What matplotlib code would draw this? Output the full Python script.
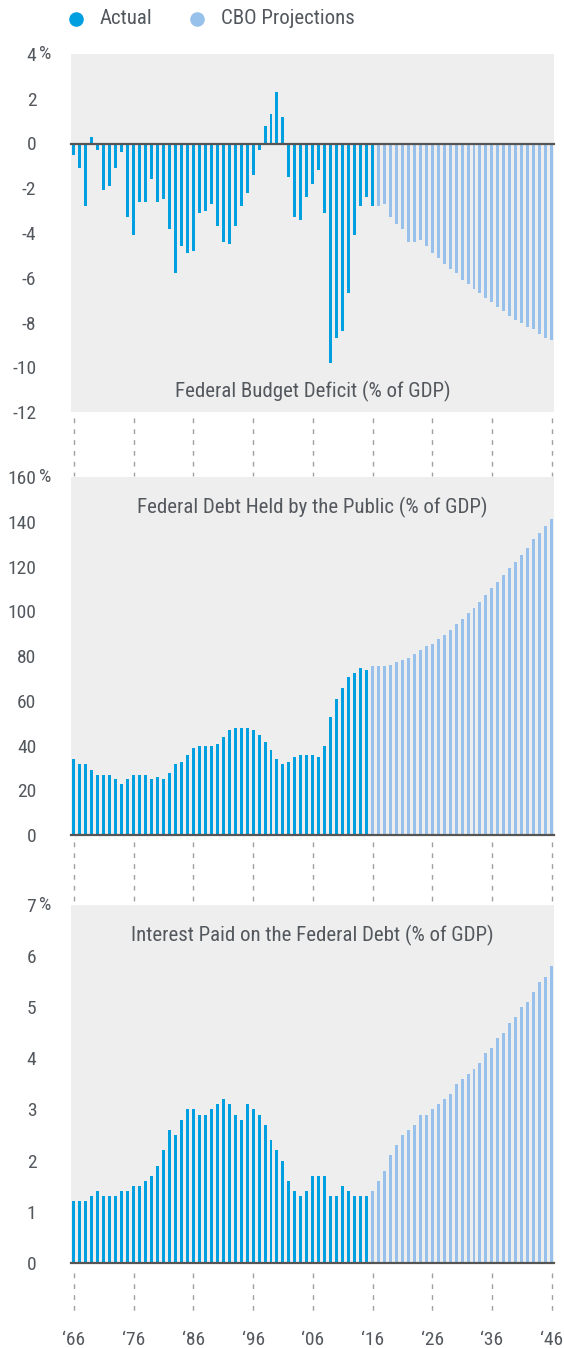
import matplotlib
matplotlib.use('Agg')
import matplotlib.pyplot as plt
import matplotlib.transforms as mtransforms
from matplotlib import font_manager
from matplotlib.lines import Line2D

# ---- data (% of GDP) ----
years = list(range(1966, 2047))

deficit_actual = [-0.5, -1.1, -2.8, 0.3, -0.3, -2.1, -1.9, -1.1, -0.4, -3.3,
                  -4.1, -2.6, -2.6, -1.6, -2.6, -2.5, -3.8, -5.8, -4.6, -4.9,
                  -4.8, -3.1, -3.0, -2.7, -3.7, -4.4, -4.5, -3.7, -2.8, -2.2,
                  -1.4, -0.3, 0.8, 1.3, 2.3, 1.2, -1.5, -3.3, -3.4, -2.4,
                  -1.8, -1.2, -3.1, -9.8, -8.7, -8.4, -6.7, -4.1, -2.8, -2.4,
                  -2.8]                                   # 1966-2016
deficit_cbo = [-2.8, -2.7, -3.3, -3.6, -3.8, -4.4, -4.4, -4.3, -4.6, -4.9,
               -5.1, -5.4, -5.6, -5.8, -6.1, -6.3, -6.5, -6.7, -6.9, -7.1,
               -7.3, -7.5, -7.7, -7.9, -8.0, -8.2, -8.3, -8.5, -8.7, -8.8]  # 2017-2046

debt_actual = [34.1, 31.8, 31.8, 29.1, 26.9, 26.9, 26.9, 25.1, 22.9, 25.1,
               26.9, 26.9, 26.9, 25.1, 26.0, 25.1, 27.8, 31.8, 32.7, 35.9,
               39.0, 39.9, 39.9, 39.9, 40.8, 43.9, 47.1, 48.0, 48.0, 48.0,
               47.1, 44.8, 41.7, 38.1, 34.1, 31.8, 32.7, 35.0, 35.9, 35.9,
               35.9, 35.0, 39.9, 52.9, 60.9, 65.9, 70.8, 72.6, 74.8, 73.9]  # 1966-2015
debt_cbo = [75.5, 75.5, 75.5, 76.2, 77.1, 78.4, 79.3, 81.1, 82.5, 84.3,
            85.2, 87.4, 89.2, 91.4, 94.1, 96.4, 99.0, 101.3, 104.0, 107.1,
            110.3, 112.9, 116.1, 119.2, 121.9, 125.0, 128.2, 132.2, 134.9, 138.0,
            141.2]                                         # 2016-2046

interest_actual = [1.2, 1.2, 1.2, 1.3, 1.4, 1.3, 1.3, 1.3, 1.4, 1.4,
                   1.5, 1.5, 1.6, 1.7, 1.9, 2.2, 2.6, 2.5, 2.8, 3.0,
                   3.0, 2.9, 2.9, 3.0, 3.1, 3.2, 3.1, 2.9, 2.8, 3.1,
                   3.0, 2.9, 2.7, 2.4, 2.2, 2.0, 1.6, 1.4, 1.3, 1.4,
                   1.7, 1.7, 1.7, 1.3, 1.3, 1.5, 1.4, 1.3, 1.3, 1.3]  # 1966-2015
interest_cbo = [1.4, 1.6, 1.8, 2.1, 2.3, 2.5, 2.6, 2.7, 2.9, 2.9,
                3.0, 3.1, 3.2, 3.3, 3.5, 3.6, 3.7, 3.8, 3.9, 4.1,
                4.2, 4.4, 4.5, 4.7, 4.8, 5.0, 5.1, 5.3, 5.5, 5.6,
                5.8]                                         # 2016-2046

titles = ['Federal Budget Deficit (% of GDP)',
          'Federal Debt Held by the Public (% of GDP)',
          'Interest Paid on the Federal Debt (% of GDP)']
yticks = [list(range(-12, 5, 2)), list(range(0, 161, 20)), list(range(0, 8))]
xticks = list(range(1966, 2047, 10))
xlabels = ['\u2018%02d' % (y % 100) for y in xticks]

C_ACT = '#009fe0'
C_CBO = '#97c1ea'
BG = '#eeeeee'
TXT = '#53585e'

# condensed face if there is one
names = {f.name for f in font_manager.fontManager.ttflist}
font = 'DejaVu Sans'
for cand in ['Roboto Condensed', 'Liberation Sans Narrow', 'Open Sans Condensed', 'Roboto']:
    if cand in names:
        font = cand
        break
plt.rcParams['font.family'] = [font, 'DejaVu Sans']

W, H = 564, 1348
fig = plt.figure(figsize=(W / 100, H / 100), dpi=100)


def px_axes(left, top, right, bottom):
    return fig.add_axes([left / W, 1 - bottom / H, (right - left) / W, (bottom - top) / H])


ax1 = px_axes(71, 54, 554, 412)
ax2 = px_axes(71, 477, 554, 835)
ax3 = px_axes(71, 905, 554, 1262.7)

n1 = len(deficit_actual)
n2 = len(debt_actual)
series = [(ax1, deficit_actual, deficit_cbo, n1, (-12, 4)),
          (ax2, debt_actual, debt_cbo, n2, (0, 160)),
          (ax3, interest_actual, interest_cbo, n2, (0, 7))]

for i, (ax, act, cbo, n, ylim) in enumerate(series):
    ax.set_facecolor(BG)
    ax.bar(years[:n], act, width=0.5, color=C_ACT, zorder=2)
    ax.bar(years[n:], cbo, width=0.5, color=C_CBO, zorder=2)
    ax.axhline(0, color='#555555', lw=1.6, zorder=3, clip_on=False)
    ax.set_xlim(1965.5, 2046.4)
    ax.set_ylim(*ylim)
    for s in ax.spines.values():
        s.set_visible(False)
    ax.set_yticks(yticks[i])
    labs = [str(v) for v in yticks[i]]
    ax.set_yticklabels(labs, fontsize=14, color=TXT)
    ax.tick_params(axis='y', length=0, pad=25)
    # percent sign hanging after the top label
    ax.annotate('%', xy=(0, ylim[1]), xycoords=('axes fraction', 'data'),
                xytext=(-23, 0), textcoords='offset points',
                ha='left', va='center', fontsize=14, color=TXT)
    ax.set_xticks(xticks)
    ax.tick_params(axis='x', length=0)
    if ax is ax3:
        ax.set_xticklabels(xlabels, fontsize=14, color=TXT)
        ax.tick_params(axis='x', pad=49)
    else:
        ax.set_xticklabels([])

ax1.text(0.5, 0.056, titles[0], transform=ax1.transAxes, ha='center', va='center',
         fontsize=15, color=TXT)
ax2.text(0.5, 0.916, titles[1], transform=ax2.transAxes, ha='center', va='center',
         fontsize=15, color=TXT)
ax3.text(0.5, 0.916, titles[2], transform=ax3.transAxes, ha='center', va='center',
         fontsize=15, color=TXT)

# dashed year guides in the gaps between panels
gaps = [(418, 476), (842, 903), (1273, 1311)]
for ax, (y0, y1) in zip([ax1, ax2, ax3], gaps):
    tr = mtransforms.blended_transform_factory(ax.transData, fig.transFigure)
    for x in xticks:
        ax.plot([x, x], [1 - y0 / H, 1 - y1 / H], transform=tr, color='#a0a0a0',
                lw=1, ls=(0, (3.4, 4.4)), clip_on=False)

# legend
for x, c, lab in [(76, C_ACT, 'Actual'), (197, C_CBO, 'CBO Projections')]:
    fig.add_artist(Line2D([x / W], [1 - 19 / H], marker='o', ms=10.5, color=c,
                          mec='none', transform=fig.transFigure))
    fig.text((x + 24) / W, 1 - 19 / H, lab, ha='left', va='center',
             fontsize=15, color=TXT)

fig.savefig('out.png', dpi=100)
